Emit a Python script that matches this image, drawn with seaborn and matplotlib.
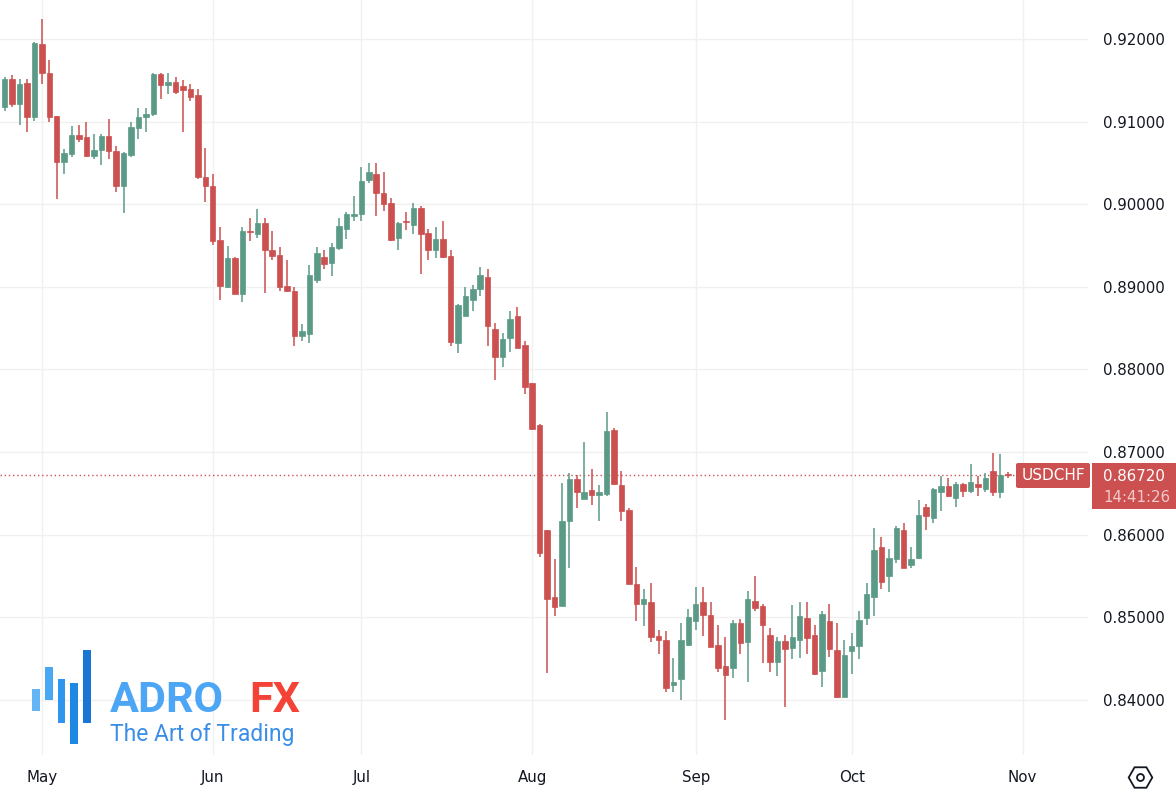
import numpy as np
import pandas as pd
import matplotlib
matplotlib.use("Agg")
import matplotlib.pyplot as plt
import seaborn as sns
from matplotlib.patches import Rectangle, FancyBboxPatch
from matplotlib.lines import Line2D
from matplotlib.transforms import IdentityTransform

# ---------------- data (USDCHF daily) ----------------
dates = pd.bdate_range("2024-04-24", "2024-10-30")

opens = [0.9118, 0.9151, 0.9121, 0.9147, 0.9105, 0.9194, 0.9159, 0.9107, 0.9051, 0.9061,
         0.9084, 0.9081, 0.9058, 0.9066, 0.9083, 0.9065, 0.9022, 0.9060, 0.9092, 0.9106,
         0.9109, 0.9158, 0.9144, 0.9148, 0.9143, 0.9139, 0.9132, 0.9033, 0.9022, 0.8957,
         0.8900, 0.8935, 0.8891, 0.8968, 0.8964, 0.8977, 0.8945, 0.8939, 0.8901, 0.8895,
         0.8841, 0.8843, 0.8908, 0.8936, 0.8929, 0.8947, 0.8970, 0.8986, 0.8988, 0.9029,
         0.9037, 0.9014, 0.9001, 0.8959, 0.8979, 0.8975, 0.8995, 0.8965, 0.8945, 0.8958,
         0.8937, 0.8832, 0.8865, 0.8884, 0.8897, 0.8912, 0.8849, 0.8815, 0.8838, 0.8865,
         0.8830, 0.8783, 0.8733, 0.8606, 0.8524, 0.8513, 0.8616, 0.8667, 0.8643, 0.8654,
         0.8648, 0.8649, 0.8727, 0.8660, 0.8630, 0.8540, 0.8516, 0.8519, 0.8477, 0.8473,
         0.8418, 0.8425, 0.8466, 0.8495, 0.8518, 0.8503, 0.8466, 0.8441, 0.8438, 0.8493,
         0.8470, 0.8520, 0.8514, 0.8478, 0.8446, 0.8471, 0.8463, 0.8473, 0.8499, 0.8478,
         0.8435, 0.8496, 0.8460, 0.8404, 0.8459, 0.8465, 0.8499, 0.8525, 0.8585, 0.8550,
         0.8571, 0.8606, 0.8563, 0.8572, 0.8633, 0.8620, 0.8652, 0.8659, 0.8644, 0.8661,
         0.8653, 0.8661, 0.8655, 0.8677, 0.8652, 0.8673]
highs = [0.9154, 0.9157, 0.9151, 0.9151, 0.9196, 0.9224, 0.9175, 0.9107, 0.9067, 0.9095,
         0.9096, 0.9099, 0.9085, 0.9085, 0.9103, 0.9071, 0.9063, 0.9099, 0.9116, 0.9116,
         0.9159, 0.9159, 0.9159, 0.9154, 0.9150, 0.9146, 0.9140, 0.9068, 0.9036, 0.8972,
         0.8949, 0.8936, 0.8973, 0.8983, 0.8994, 0.8983, 0.8968, 0.8948, 0.8932, 0.8900,
         0.8855, 0.8926, 0.8948, 0.8945, 0.8953, 0.8983, 0.8990, 0.9010, 0.9045, 0.9050,
         0.9050, 0.9039, 0.9007, 0.8978, 0.8991, 0.9001, 0.8998, 0.8970, 0.8972, 0.8980,
         0.8945, 0.8879, 0.8900, 0.8902, 0.8924, 0.8921, 0.8856, 0.8844, 0.8871, 0.8875,
         0.8834, 0.8784, 0.8734, 0.8606, 0.8571, 0.8663, 0.8674, 0.8672, 0.8712, 0.8679,
         0.8660, 0.8749, 0.8729, 0.8677, 0.8632, 0.8561, 0.8534, 0.8542, 0.8485, 0.8483,
         0.8451, 0.8493, 0.8510, 0.8537, 0.8537, 0.8518, 0.8491, 0.8476, 0.8497, 0.8498,
         0.8532, 0.8550, 0.8516, 0.8487, 0.8476, 0.8479, 0.8515, 0.8518, 0.8518, 0.8490,
         0.8507, 0.8516, 0.8493, 0.8472, 0.8481, 0.8507, 0.8542, 0.8608, 0.8597, 0.8583,
         0.8610, 0.8614, 0.8585, 0.8642, 0.8637, 0.8656, 0.8671, 0.8669, 0.8664, 0.8663,
         0.8686, 0.8671, 0.8674, 0.8699, 0.8698, 0.8676]
lows = [0.9113, 0.9118, 0.9096, 0.9088, 0.9101, 0.9146, 0.9099, 0.9006, 0.9037, 0.9057,
        0.9075, 0.9057, 0.9055, 0.9047, 0.9055, 0.9015, 0.8989, 0.9057, 0.9079, 0.9088,
        0.9107, 0.9127, 0.9134, 0.9133, 0.9087, 0.9125, 0.9030, 0.9003, 0.8951, 0.8884,
        0.8898, 0.8891, 0.8881, 0.8955, 0.8959, 0.8893, 0.8932, 0.8895, 0.8894, 0.8828,
        0.8834, 0.8832, 0.8905, 0.8922, 0.8913, 0.8945, 0.8958, 0.8980, 0.8980, 0.9026,
        0.8986, 0.8992, 0.8955, 0.8944, 0.8969, 0.8964, 0.8915, 0.8932, 0.8935, 0.8935,
        0.8828, 0.8820, 0.8865, 0.8871, 0.8889, 0.8828, 0.8787, 0.8803, 0.8821, 0.8826,
        0.8770, 0.8727, 0.8573, 0.8432, 0.8501, 0.8513, 0.8559, 0.8632, 0.8643, 0.8636,
        0.8617, 0.8647, 0.8660, 0.8616, 0.8540, 0.8495, 0.8489, 0.8470, 0.8455, 0.8409,
        0.8410, 0.8400, 0.8465, 0.8485, 0.8477, 0.8464, 0.8434, 0.8375, 0.8427, 0.8456,
        0.8422, 0.8507, 0.8444, 0.8434, 0.8429, 0.8391, 0.8449, 0.8451, 0.8456, 0.8430,
        0.8415, 0.8452, 0.8402, 0.8403, 0.8431, 0.8449, 0.8491, 0.8501, 0.8534, 0.8530,
        0.8566, 0.8559, 0.8559, 0.8570, 0.8606, 0.8614, 0.8629, 0.8646, 0.8633, 0.8645,
        0.8650, 0.8647, 0.8651, 0.8647, 0.8644, 0.8669]
closes = [0.9152, 0.9121, 0.9146, 0.9106, 0.9195, 0.9159, 0.9106, 0.9051, 0.9062, 0.9084,
          0.9079, 0.9058, 0.9066, 0.9083, 0.9065, 0.9022, 0.9062, 0.9093, 0.9106, 0.9109,
          0.9158, 0.9144, 0.9148, 0.9136, 0.9138, 0.9130, 0.9033, 0.9022, 0.8956, 0.8901,
          0.8935, 0.8891, 0.8967, 0.8966, 0.8977, 0.8944, 0.8937, 0.8900, 0.8895, 0.8841,
          0.8846, 0.8914, 0.8941, 0.8928, 0.8948, 0.8974, 0.8988, 0.8988, 0.9028, 0.9039,
          0.9014, 0.9000, 0.8957, 0.8977, 0.8978, 0.8995, 0.8964, 0.8944, 0.8958, 0.8936,
          0.8833, 0.8878, 0.8889, 0.8897, 0.8914, 0.8852, 0.8815, 0.8837, 0.8861, 0.8826,
          0.8779, 0.8728, 0.8578, 0.8522, 0.8512, 0.8617, 0.8667, 0.8651, 0.8651, 0.8648,
          0.8651, 0.8725, 0.8661, 0.8628, 0.8540, 0.8516, 0.8522, 0.8476, 0.8472, 0.8414,
          0.8422, 0.8473, 0.8500, 0.8516, 0.8503, 0.8464, 0.8439, 0.8430, 0.8493, 0.8469,
          0.8522, 0.8511, 0.8491, 0.8446, 0.8471, 0.8462, 0.8476, 0.8502, 0.8475, 0.8431,
          0.8504, 0.8461, 0.8403, 0.8454, 0.8465, 0.8497, 0.8528, 0.8581, 0.8543, 0.8572,
          0.8608, 0.8560, 0.8571, 0.8624, 0.8622, 0.8655, 0.8659, 0.8647, 0.8661, 0.8653,
          0.8664, 0.8658, 0.8668, 0.8652, 0.8672, 0.8672]

price_ticks = [0.84, 0.85, 0.86, 0.87, 0.88, 0.89, 0.90, 0.91, 0.92]
month_labels = ["May", "Jun", "Jul", "Aug", "Sep", "Oct", "Nov"]
symbol = "USDCHF"
last_price = 0.8672
countdown = "14:41:26"

# ---------------- style ----------------
sns.set_theme(style="white")
plt.rcParams['font.family'] = ['DejaVu Sans']

W, H = 1176, 798
UP = "#5b9a86"
DOWN = "#cc5050"
TXT = "#131722"
GRID = "#f0f0f0"

fig = plt.figure(figsize=(W / 100, H / 100), dpi=100)
fig.patch.set_facecolor("white")
ax = fig.add_axes([0, 1 - 755 / H, 1088 / W, 755 / H])
ax.set_facecolor("white")

df = pd.DataFrame({"date": dates, "open": opens, "high": highs, "low": lows, "close": closes})
df["x"] = np.arange(len(df))
df["up"] = df["close"] >= df["open"]
colors = np.where(df["up"], UP, DOWN)

# wicks
ax.vlines(df["x"], df["low"], df["high"], colors=colors, lw=1.1, zorder=3)
# bodies
body_bottom = np.minimum(df["open"], df["close"])
body_h = np.maximum(np.abs(df["close"] - df["open"]), 0.00012)
ax.bar(df["x"], body_h, bottom=body_bottom, width=0.74, color=colors,
       edgecolor=colors, linewidth=0.5, zorder=4)

# axes limits
ax.set_xlim(-0.633, 145.8)
ax.set_ylim(0.83332, 0.92472)

# month ticks
full = pd.bdate_range("2024-04-24", "2024-11-01")
month_pos = [i for i in range(1, len(full)) if full[i].month != full[i - 1].month]
ax.set_xticks(month_pos)
ax.set_xticklabels(month_labels[:len(month_pos)])
ax.set_yticks(price_ticks)
ax.set_yticklabels([f"{v:.5f}" for v in price_ticks])
ax.yaxis.tick_right()
ax.tick_params(axis="y", length=0, pad=10.8, labelsize=10.8, labelcolor=TXT)
ax.tick_params(axis="x", length=0, pad=11, labelsize=10.8, labelcolor=TXT)
ax.grid(True, color=GRID, lw=1, zorder=0)
for s in ax.spines.values():
    s.set_visible(False)

# last price dotted line
ax.axhline(last_price, color=DOWN, lw=1, ls=(0, (1, 2)), zorder=2)

# ---------------- labels in pixel coordinates ----------------
ident = IdentityTransform()


def pbox(x0, y0, x1, y1, color, r=2):
    p = FancyBboxPatch((x0, H - y1), x1 - x0, y1 - y0,
                       boxstyle=f"round,pad=0,rounding_size={r}",
                       transform=ident, facecolor=color, edgecolor="none", zorder=10)
    fig.add_artist(p)


pbox(1016, 463, 1090, 488, DOWN)
fig.text(1053 / W, 1 - 476 / H, symbol, color="white", fontsize=11,
         ha="center", va="center", zorder=11)
pbox(1092, 463, 1176, 509, DOWN, r=0)
fig.text(1103 / W, 1 - 476.5 / H, f"{last_price:.5f}", color="white", fontsize=10.8,
         ha="left", va="center", zorder=11)
fig.text(1103 / W, 1 - 497 / H, countdown, color="#f3c9c9", fontsize=10.8,
         ha="left", va="center", zorder=11)

# settings icon
fig.add_artist(Line2D([1140 / W], [1 - 777 / H], marker="H", markersize=17,
                      mfc="none", mec=TXT, mew=1.3, transform=fig.transFigure))
fig.add_artist(Line2D([1140 / W], [1 - 777 / H], marker="o", markersize=5,
                      mfc="none", mec=TXT, mew=1.3, transform=fig.transFigure))

# ---------------- logo ----------------
logo_bars = [(32, 40, 689, 711, "#64b5f6"), (45, 53, 667, 700, "#4aa8f3"),
             (58, 65, 679, 723, "#2e96ee"), (70, 78, 683, 744, "#1e88e5"),
             (83, 91, 650, 723, "#1976d2")]
for x0, x1, y0, y1, c in logo_bars:
    fig.add_artist(Rectangle((x0, H - y1), x1 - x0, y1 - y0, transform=ident,
                             facecolor=c, edgecolor="none", zorder=10))
fig.text(110 / W, 1 - 712 / H, "ADRO", color="#4da6f5", fontsize=31,
         fontweight="bold", family="Roboto", ha="left", va="baseline", zorder=11)
fig.text(249 / W, 1 - 712 / H, "FX", color="#f44336", fontsize=31,
         fontweight="bold", family="Roboto", ha="left", va="baseline", zorder=11)
fig.text(110 / W, 1 - 741 / H, "The Art of Trading", color="#3b8ee8", fontsize=16.5,
         family="Roboto", ha="left", va="baseline", zorder=11)

fig.savefig("out.png", dpi=100)
